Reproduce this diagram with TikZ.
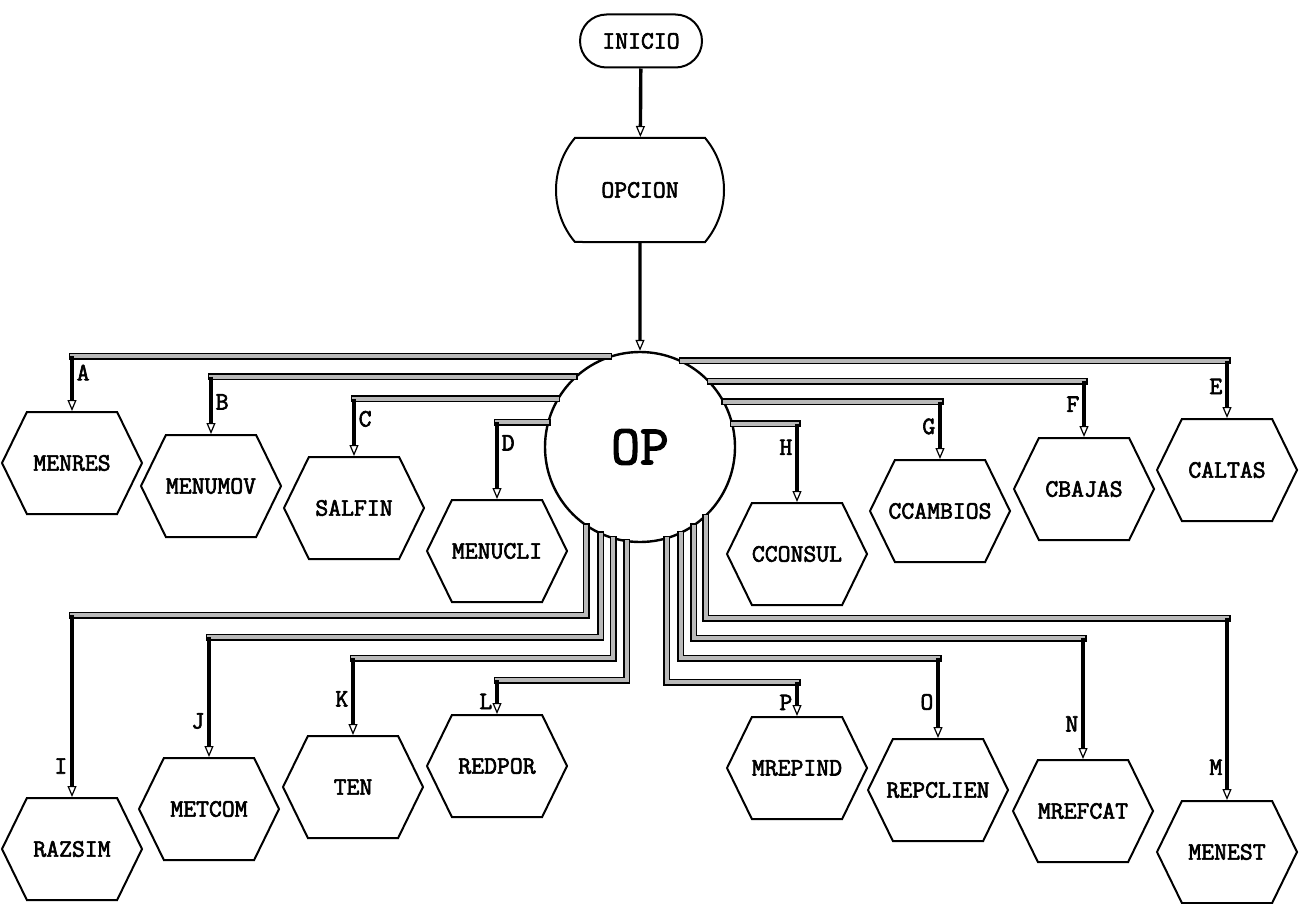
\documentclass[tikz,border=0pt]{standalone}
\usepackage{fontspec}
\newfontfamily\matriz{Latin Modern Mono}[FakeBold=2.5]
\usetikzlibrary{
  arrows.meta,
  shapes.misc,
  shapes.symbols
}

\begin{document}
\begin{tikzpicture}[
      x=1pt, y=-1pt,
      modulo/.style={draw, line width=2pt, shape=signal, signal to=east and west,
                     signal pointer angle=128, minimum width=140pt, minimum height=102pt,
                     inner xsep=-14pt, inner ysep=0pt,
                     font=\matriz\fontsize{25}{27}\selectfont},
      terminal/.style={draw, line width=2pt, rounded rectangle, inner sep=0pt,
                       font=\matriz\fontsize{25}{27}\selectfont},
      bus/.style={line width=1.5pt, double=gray!55, double distance=4pt, line cap=rect},
      baja/.style={line width=3.4pt, -{Triangle[fill=white, length=11pt, width=9pt, line width=1.2pt]}},
      letra/.style={font=\matriz\fontsize{25}{27}\selectfont, inner sep=3pt}
  ]
      \useasboundingbox (0,0) rectangle (1299,904);

      % Inicio, opcion y selector
      \node[terminal, minimum width=122pt, minimum height=53pt] (ini) at (641,41) {INICIO};
      \node[terminal, rounded rectangle arc length=80, minimum width=168pt,
            minimum height=104pt] (opc) at (640,190) {OPCION};
      \node[circle, draw, line width=2.4pt, minimum size=190pt, inner sep=0pt,
            font=\matriz\fontsize{56}{58}\selectfont] (op) at (640,447) {OP};

      \draw[baja] (ini) -- (opc);
      \draw[baja] (opc) -- (op);

      % Modulos de la fila superior
      \node[modulo] (menres)   at (72,463)   {MENRES};
      \node[modulo] (menumov)  at (211,486)  {MENUMOV};
      \node[modulo] (salfin)   at (354,508)  {SALFIN};
      \node[modulo] (menucli)  at (497,551)  {MENUCLI};
      \node[modulo] (cconsul)  at (797,554)  {CCONSUL};
      \node[modulo] (ccambios) at (940,511)  {CCAMBIOS};
      \node[modulo] (cbajas)   at (1084,489) {CBAJAS};
      \node[modulo] (caltas)   at (1227,470) {CALTAS};

      % Modulos de la fila inferior
      \node[modulo] (razsim)   at (72,849)   {RAZSIM};
      \node[modulo] (metcom)   at (209,809)  {METCOM};
      \node[modulo] (ten)      at (353,787)  {TEN};
      \node[modulo] (redpor)   at (497,766)  {REDPOR};
      \node[modulo] (mrepind)  at (797,768)  {MREPIND};
      \node[modulo] (repclien) at (938,790)  {REPCLIEN};
      \node[modulo] (mrefcat)  at (1083,811) {MREFCAT};
      \node[modulo] (menest)   at (1227,852) {MENEST};

      % Barras superiores (A-D a la izquierda, E-H a la derecha)
      \coordinate (kA) at (menres.north |- op.109);
      \coordinate (kB) at (menumov.north |- op.133);
      \coordinate (kC) at (salfin.north |- op.150);
      \coordinate (kD) at (menucli.north |- op.165);
      \coordinate (kE) at (caltas.north |- op.64);
      \coordinate (kF) at (cbajas.north |- op.43);
      \coordinate (kG) at (ccambios.north |- op.28);
      \coordinate (kH) at (cconsul.north |- op.14);

      \draw[bus] (op.109) -- (kA);
      \draw[bus] (op.133) -- (kB);
      \draw[bus] (op.150) -- (kC);
      \draw[bus] (op.165) -- (kD);
      \draw[bus] (op.64)  -- (kE);
      \draw[bus] (op.43)  -- (kF);
      \draw[bus] (op.28)  -- (kG);
      \draw[bus] (op.14)  -- (kH);

      \draw[baja] (kA) -- node[letra, right, pos=0.3]  {A} (menres.north);
      \draw[baja] (kB) -- node[letra, right, pos=0.44] {B} (menumov.north);
      \draw[baja] (kC) -- node[letra, right, pos=0.35] {C} (salfin.north);
      \draw[baja] (kD) -- node[letra, right, pos=0.27] {D} (menucli.north);
      \draw[baja] (kE) -- node[letra, left, pos=0.45]  {E} (caltas.north);
      \draw[baja] (kF) -- node[letra, left, pos=0.41]  {F} (cbajas.north);
      \draw[baja] (kG) -- node[letra, left, pos=0.43]  {G} (ccambios.north);
      \draw[baja] (kH) -- node[letra, left, pos=0.3]   {H} (cconsul.north);

      % Barras inferiores (I-L a la izquierda, M-P a la derecha)
      \coordinate (kI) at (razsim.north |- 0,615);
      \coordinate (kJ) at (metcom.north |- 0,637);
      \coordinate (kK) at (ten.north |- 0,658);
      \coordinate (kL) at (redpor.north |- 0,680);
      \coordinate (kP) at (mrepind.north |- 0,682);
      \coordinate (kO) at (repclien.north |- 0,658);
      \coordinate (kN) at (mrefcat.north |- 0,638);
      \coordinate (kM) at (menest.north |- 0,618);

      \draw[bus] (op.236) |- (kI);
      \draw[bus] (op.246) |- (kJ);
      \draw[bus] (op.254) |- (kK);
      \draw[bus] (op.262) |- (kL);
      \draw[bus] (op.286) |- (kP);
      \draw[bus] (op.295) |- (kO);
      \draw[bus] (op.304) |- (kN);
      \draw[bus] (op.313) |- (kM);

      \draw[baja] (kI) -- node[letra, left, pos=0.83] {I} (razsim.north);
      \draw[baja] (kJ) -- node[letra, left, pos=0.7]  {J} (metcom.north);
      \draw[baja] (kK) -- node[letra, left, pos=0.53] {K} (ten.north);
      \draw[baja] (kL) -- node[letra, left, pos=0.63] {L} (redpor.north);
      \draw[baja] (kP) -- node[letra, left, pos=0.6]  {P} (mrepind.north);
      \draw[baja] (kO) -- node[letra, left, pos=0.55] {O} (repclien.north);
      \draw[baja] (kN) -- node[letra, left, pos=0.71] {N} (mrefcat.north);
      \draw[baja] (kM) -- node[letra, left, pos=0.82] {M} (menest.north);
\end{tikzpicture}
\end{document}
